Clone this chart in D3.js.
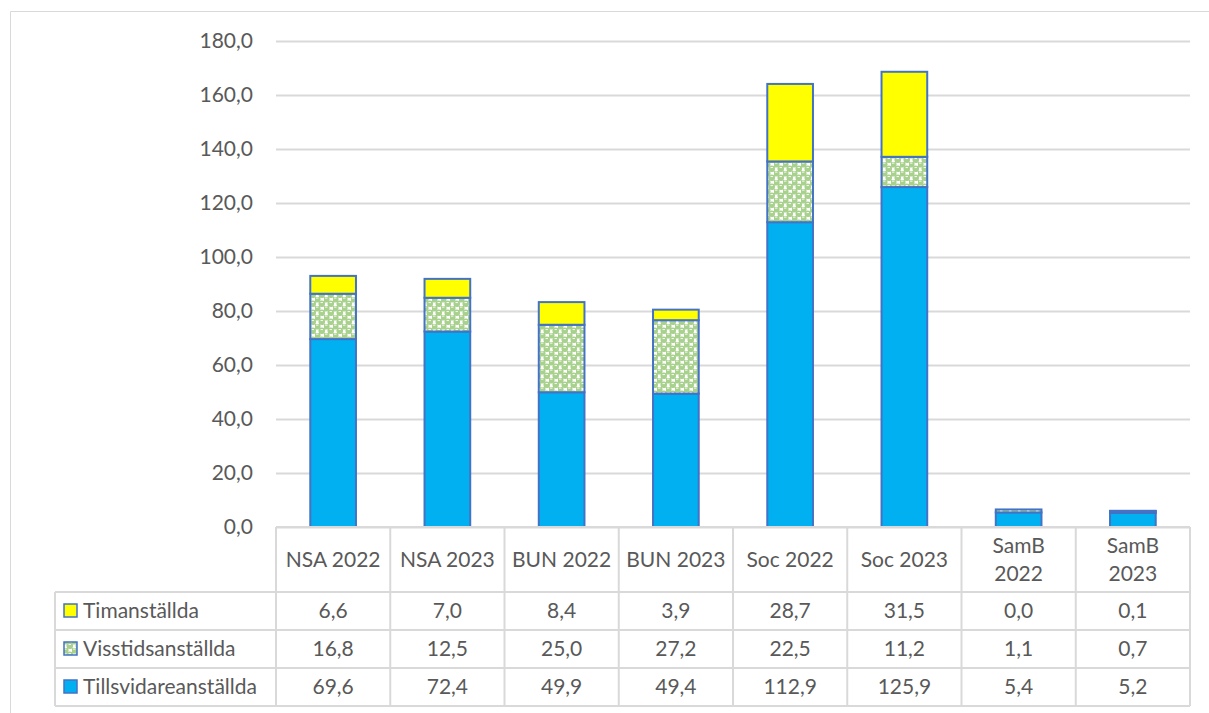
<!DOCTYPE html>
<html>
<head>
<meta charset="utf-8">
<script src="https://cdn.jsdelivr.net/npm/d3@7"></script>
<style>
  body { margin: 0; background: #fff; }
  svg text { font-family: Lato, "Noto Sans", sans-serif; fill: #595959; }
</style>
</head>
<body>
<div id="chart"></div>
<script>
// data
var categories = [["NSA 2022"], ["NSA 2023"], ["BUN 2022"], ["BUN 2023"],
                  ["Soc 2022"], ["Soc 2023"], ["SamB", "2022"], ["SamB", "2023"]];
var tillsvidare = [69.6, 72.4, 49.9, 49.4, 112.9, 125.9, 5.4, 5.2];
var visstid = [16.8, 12.5, 25.0, 27.2, 22.5, 11.2, 1.1, 0.7];
var timanst = [6.6, 7.0, 8.4, 3.9, 28.7, 31.5, 0.0, 0.1];
var yTicks = [0, 20, 40, 60, 80, 100, 120, 140, 160, 180];
var seriesNames = ["Timanställda", "Visstidsanställda", "Tillsvidareanställda"];

var W = 1209, H = 713;
var fontSize = "21px";
var svg = d3.select("#chart").append("svg").attr("width", W).attr("height", H);
var defs = svg.append("defs");

// dotted green pattern for visstid
var pat = defs.append("pattern")
    .attr("id", "greenDots")
    .attr("patternUnits", "userSpaceOnUse")
    .attr("width", 9).attr("height", 9);
pat.append("rect").attr("width", 9).attr("height", 9).attr("fill", "#fff");
[[2.25, 2.25], [6.75, 6.75], [6.75, -2.25], [-2.25, 6.75], [11.25, 6.75], [6.75, 11.25]].forEach(function(c){
    pat.append("circle").attr("cx", c[0]).attr("cy", c[1]).attr("r", 3.3).attr("fill", "#a9d18e");
});
[[2.25, 2.25], [6.75, 6.75]].forEach(function(c){
    pat.append("rect").attr("x", c[0] - 1.2).attr("y", c[1] - 1.6).attr("width", 2.4).attr("height", 0.9).attr("fill", "#fff");
});

var gridColor = "#d9d9d9";

// outer frame
svg.append("line").attr("x1", 10.5).attr("x2", W).attr("y1", 11.5).attr("y2", 11.5)
    .style("stroke", gridColor).style("stroke-width", 1);
svg.append("line").attr("x1", 10.5).attr("x2", 10.5).attr("y1", 11.5).attr("y2", H)
    .style("stroke", gridColor).style("stroke-width", 1);

var plotLeft = 276, plotRight = 1190, plotTop = 41, plotBottom = 527;

var x = d3.scaleBand().domain(d3.range(categories.length)).range([plotLeft, plotRight]).paddingInner(0).paddingOuter(0);
var y = d3.scaleLinear().domain([0, 180]).range([plotBottom, plotTop]);

// gridlines + y labels
var yAxis = d3.axisLeft(y).tickValues(yTicks).tickSize(-(plotRight - plotLeft)).tickPadding(23)
    .tickFormat(function(d){ return d3.format(".1f")(d).replace(".", ","); });
var ga = svg.append("g").attr("transform", "translate(" + plotLeft + ",0)").call(yAxis);
ga.select(".domain").remove();
ga.selectAll(".tick line").style("stroke", gridColor).style("stroke-width", 2);
ga.selectAll(".tick text").style("font-size", fontSize).style("fill", "#595959")
    .attr("font-family", "Lato, 'Noto Sans', sans-serif");

// stacked bars
var stackData = categories.map(function(c, i){
    return {i: i, till: tillsvidare[i], viss: visstid[i], tim: timanst[i]};
});
var stack = d3.stack().keys(["till", "viss", "tim"]);
var layers = stack(stackData);
var fills = {till: "#00b0f0", viss: "url(#greenDots)", tim: "#ffff00"};
var barW = x.bandwidth() * 0.4;

layers.forEach(function(layer){
    svg.append("g").selectAll("rect").data(layer).enter().append("rect")
        .attr("x", function(d, i){ return x(i) + (x.bandwidth() - barW) / 2; })
        .attr("y", function(d){ return y(d[1]); })
        .attr("width", barW)
        .attr("height", function(d){ return Math.max(0, y(d[0]) - y(d[1])); })
        .style("fill", fills[layer.key])
        .style("stroke", "#4472c4")
        .style("stroke-width", 2);
});

// data table
var legendLeft = 55;
var headBottom = 592, rowH = 38;
var tg = svg.append("g");
var lineStyle = function(sel){ return sel.style("stroke", gridColor).style("stroke-width", 2); };

// horizontal lines
lineStyle(tg.append("line").attr("x1", plotLeft).attr("x2", plotRight).attr("y1", plotBottom).attr("y2", plotBottom));
for (var r = 0; r <= 3; r++) {
    lineStyle(tg.append("line").attr("x1", legendLeft).attr("x2", plotRight)
        .attr("y1", headBottom + r * rowH).attr("y2", headBottom + r * rowH));
}
// vertical lines
lineStyle(tg.append("line").attr("x1", legendLeft).attr("x2", legendLeft)
    .attr("y1", headBottom).attr("y2", headBottom + 3 * rowH));
d3.range(categories.length + 1).forEach(function(i){
    var xx = i < categories.length ? x(i) : plotRight;
    lineStyle(tg.append("line").attr("x1", xx).attr("x2", xx)
        .attr("y1", plotBottom).attr("y2", headBottom + 3 * rowH));
});

// header labels
categories.forEach(function(c, i){
    var cx = x(i) + x.bandwidth() / 2;
    var cy = (plotBottom + headBottom) / 2;
    c.forEach(function(line, k){
        var off = c.length === 1 ? 0 : (k === 0 ? -14 : 14);
        tg.append("text").attr("x", cx).attr("y", cy + off).attr("dy", "0.35em")
            .attr("text-anchor", "middle").style("font-size", fontSize).text(line);
    });
});

// rows
var rowSeries = [timanst, visstid, tillsvidare];
var keyFills = ["#ffff00", "url(#greenDots)", "#00b0f0"];
rowSeries.forEach(function(vals, r){
    var cy = headBottom + r * rowH + rowH / 2;
    tg.append("rect").attr("x", 64).attr("y", cy - 7).attr("width", 13).attr("height", 13)
        .style("fill", keyFills[r]).style("stroke", "#4472c4").style("stroke-width", 1.5);
    tg.append("text").attr("x", 83).attr("y", cy).attr("dy", "0.35em")
        .style("font-size", fontSize).text(seriesNames[r]);
    vals.forEach(function(v, i){
        tg.append("text").attr("x", x(i) + x.bandwidth() / 2).attr("y", cy).attr("dy", "0.35em")
            .attr("text-anchor", "middle").style("font-size", fontSize)
            .text(d3.format(".1f")(v).replace(".", ","));
    });
});
</script>
</body>
</html>
